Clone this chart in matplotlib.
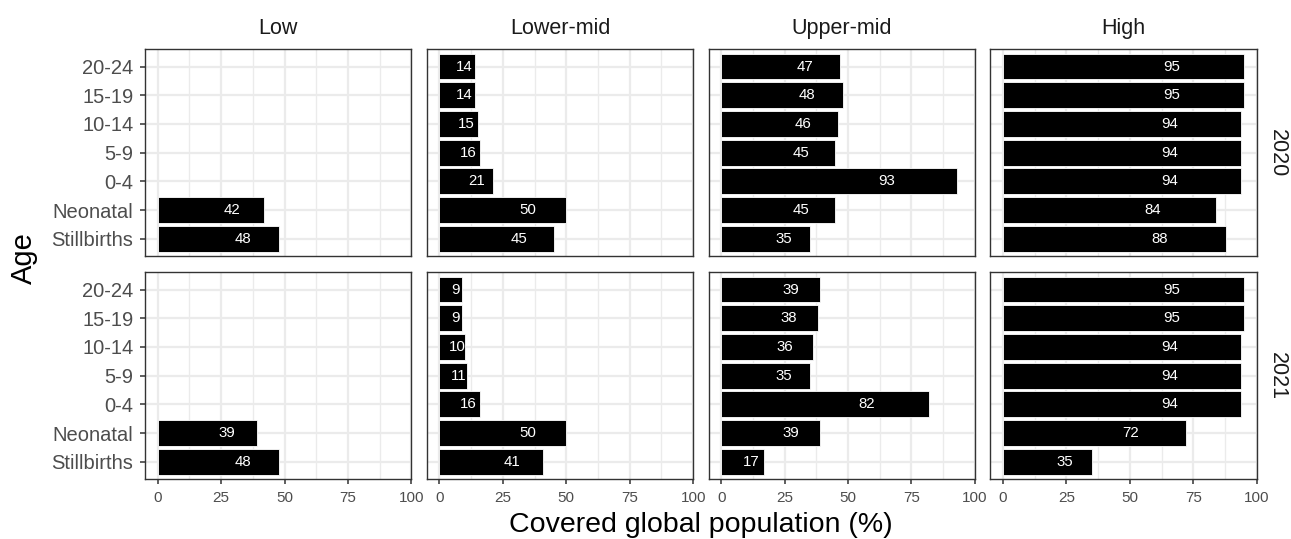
import numpy as np
from matplotlib import pyplot as plt
from matplotlib.ticker import MultipleLocator

plt.rcParams['font.family'] = ['Liberation Sans', 'DejaVu Sans']

# data (bottom to top as drawn)
ages = ['Stillbirths', 'Neonatal', '0-4', '5-9', '10-14', '15-19', '20-24']
income = ['Low', 'Lower-mid', 'Upper-mid', 'High']
years = ['2020', '2021']

# values per income group, same order as ages; None = no bar
low_2020 = [48, 42, None, None, None, None, None]
lowmid_2020 = [45, 50, 21, 16, 15, 14, 14]
upmid_2020 = [35, 45, 93, 45, 46, 48, 47]
high_2020 = [88, 84, 94, 94, 94, 95, 95]

low_2021 = [48, 39, None, None, None, None, None]
lowmid_2021 = [41, 50, 16, 11, 10, 9, 9]
upmid_2021 = [17, 39, 82, 35, 36, 38, 39]
high_2021 = [35, 72, 94, 94, 94, 95, 95]

rows = [[low_2020, lowmid_2020, upmid_2020, high_2020],
        [low_2021, lowmid_2021, upmid_2021, high_2021]]

fig = plt.figure(figsize=(12.91, 5.39), dpi=100)
axes = fig.subplots(2, 4, gridspec_kw=dict(left=145/1291, right=1256.7/1291,
                                           top=1-49.3/539, bottom=1-479/539,
                                           wspace=0.058, hspace=0.079))

for r in range(2):
    for c in range(4):
        ax = axes[r, c]
        vals = rows[r][c]
        ys = [i for i, v in enumerate(vals) if v is not None]
        vs = [vals[i] for i in ys]
        ax.barh(ys, vs, height=0.9, color='black', edgecolor='white', linewidth=0.6, zorder=2)
        for y, v in zip(ys, vs):
            ax.text(0.7 * v, y, f'{v:.0f}', color='white', ha='center', va='center',
                    fontsize=10.8, zorder=3)
        ax.set_xlim(-5, 100)
        ax.set_ylim(-0.6, 6.6)
        ax.set_xticks([0, 25, 50, 75, 100])
        ax.xaxis.set_minor_locator(MultipleLocator(12.5))
        ax.set_yticks(range(len(ages)))
        ax.set_yticklabels(ages)
        ax.set_axisbelow(True)
        ax.grid(which='major', color='#EBEBEB', linewidth=1.6)
        ax.grid(which='minor', axis='x', color='#EBEBEB', linewidth=1.0)
        for s in ax.spines.values():
            s.set_color('#333333')
            s.set_linewidth(1.0)
        ax.tick_params(which='minor', length=0)
        ax.tick_params(axis='x', length=3.8, width=1.1, color='#333333',
                       labelsize=11, labelcolor='#4D4D4D', pad=5)
        ax.tick_params(axis='y', length=3.8, width=1.1, color='#333333',
                       labelsize=14.5, labelcolor='#4D4D4D', pad=4.5)
        if r == 0:
            ax.tick_params(axis='x', length=0, labelbottom=False)
            ax.set_title(income[c], pad=10.8, fontsize=15.5, color='#1A1A1A')
        if c > 0:
            ax.tick_params(axis='y', length=0, labelleft=False)
        if c == 3:
            ax.annotate(years[r], xy=(1, 0.5), xycoords='axes fraction', xytext=(15, 0),
                        textcoords='offset points', rotation=-90, ha='center', va='center',
                        fontsize=15.5, color='#1A1A1A')

fig.text(24/1291, 1-258/539, 'Age', rotation=90, ha='center', va='center', fontsize=21)
fig.text(700.9/1291, 1-532/539, 'Covered global population (%)', ha='center',
         va='baseline', fontsize=20.5)

plt.savefig('out.png', dpi=100)
